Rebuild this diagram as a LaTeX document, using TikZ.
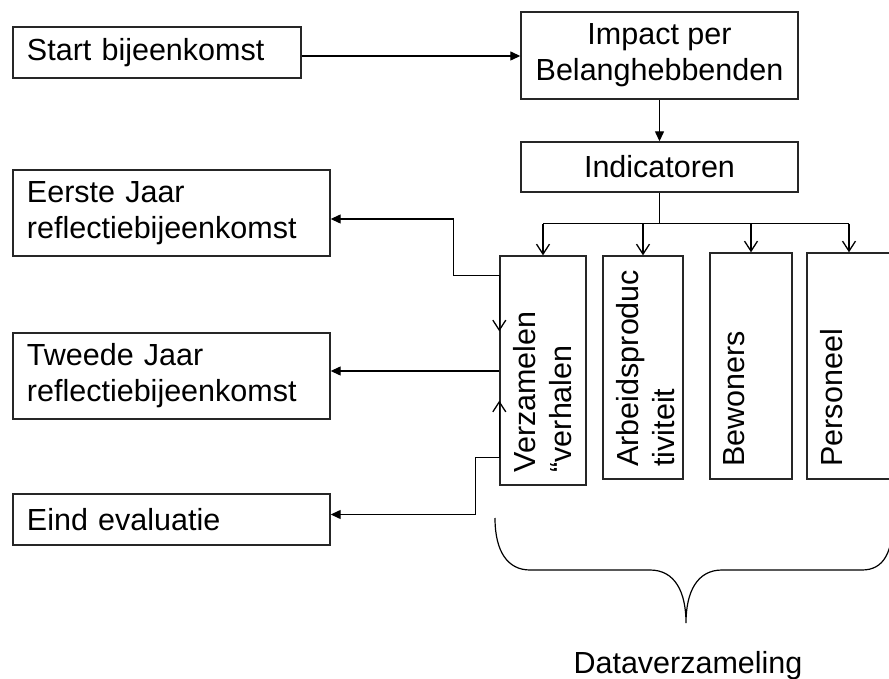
\documentclass[tikz,border=0pt]{standalone}
\usepackage{fontspec}
\setmainfont{Liberation Sans}
\usetikzlibrary{arrows.meta,calc}

\tikzset{
  lbox/.style={draw=black!85, line width=1.4pt, rectangle, inner ysep=0pt,
    inner xsep=14pt, align=left},
  cbox/.style={draw=black!85, line width=1.4pt, rectangle, inner sep=0pt, align=center},
  vbox/.style={draw=black!85, line width=1.4pt, rectangle, inner sep=0pt},
  vtext/.style={rotate=90, anchor=north west, inner sep=0pt, align=left},
  fillpijl/.style={line width=1.3pt, -{Triangle[length=10pt,width=9pt]}},
  openpijl/.style={line width=1.3pt, -{Straight Barb[length=10pt,width=13pt]}}
}

\begin{document}
\begin{tikzpicture}[x=1pt, y=-1pt,
    every node/.style={font=\fontsize{30.5}{36}\selectfont}]
\useasboundingbox (0,0) rectangle (889,679);

% linkerkolom
\node[lbox, text width=260pt, minimum height=51pt] (start) at (157,52.5) {Start bijeenkomst};
\node[lbox, text width=289pt, minimum height=86pt] (eerste) at (171.5,213) {Eerste Jaar\\reflectiebijeenkomst};
\node[lbox, text width=289pt, minimum height=86pt] (tweede) at (171.5,376) {Tweede Jaar\\reflectiebijeenkomst};
\node[lbox, text width=289pt, minimum height=51pt] (eind) at (171.5,519.5) {Eind evaluatie};

% rechterkolom
\node[cbox, minimum width=277pt, minimum height=87pt] (impact) at (659.5,55.5) {Impact per\\Belanghebbenden};
\node[cbox, minimum width=277pt, minimum height=50pt] (indic) at (659.5,167) {Indicatoren};

\foreach \n/\x/\y/\w/\h/\t in {verz/543/370.5/86/229/{Verzamelen\\“verhalen},
    arbeid/643/367.5/80/223/{Arbeidsproduc\\tiviteit},
    bew/751/366/82/226/{Bewoners},
    pers/849/366/84/226/{Personeel}} {
  \node[vbox, minimum width=\w pt, minimum height=\h pt] (\n) at (\x,\y) {};
  \node[vtext] (\n-t) at ([xshift=14pt,yshift=13pt]\n.south west) {\t};
}

% pijlen
\coordinate (s1) at ([yshift=-3.5pt]start.east);
\draw[fillpijl] (s1) -- (impact.west |- s1);
\draw[fillpijl] (impact) -- (indic);

\draw[line width=1.3pt] (indic.south) -- ++(0,31) coordinate (bus);
\draw[line width=1.3pt] (bus -| verz.north) -- (bus -| pers.north);
\foreach \n in {verz,arbeid,bew,pers}
  \draw[openpijl] (bus -| \n.north) -- (\n.north);

\draw[fillpijl] ([yshift=-20pt]verz.north west) -- ++(-46,0) |- ([yshift=-6pt]eerste.east);
\draw[openpijl] ([yshift=-20pt]verz.north west) -- ++(0,56);

\coordinate (t2) at ([yshift=5pt]tweede.east);
\draw[fillpijl] (verz.west |- t2) -- (t2);

\draw[fillpijl] ([yshift=28pt]verz.south west) -- ++(-24,0) |- ([yshift=5pt]eind.east);
\draw[openpijl] ([yshift=28pt]verz.south west) -- ++(0,-57);

% accolade
\draw[line width=1.2pt] (495,518) .. controls (495,552) and (508,570) .. (530,570)
  -- (650,570) .. controls (675,570) and (686,592) .. (686,623)
  .. controls (686,592) and (697,570) .. (722,570)
  -- (862,570) .. controls (884,570) and (893,552) .. (893,518);
\node[anchor=base] (data) at (688,673) {Dataverzameling};

\end{tikzpicture}
\end{document}
